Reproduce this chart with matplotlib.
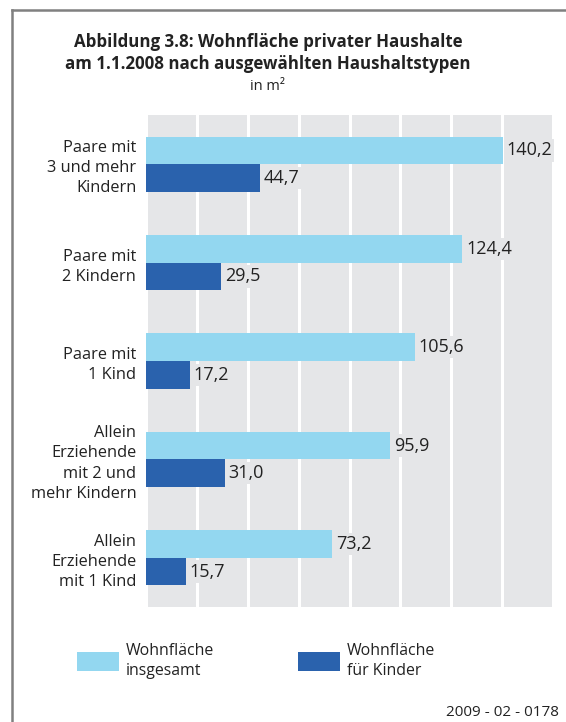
import numpy as np
import matplotlib.pyplot as plt
from matplotlib.patches import Rectangle
from matplotlib.lines import Line2D

plt.rcParams['font.family'] = ['Open Sans', 'DejaVu Sans']

categories = [
    "Paare mit\n3 und mehr\nKindern",
    "Paare mit\n2 Kindern",
    "Paare mit\n1 Kind",
    "Allein\nErziehende\nmit 2 und\nmehr Kindern",
    "Allein\nErziehende\nmit 1 Kind",
]
gesamt = [140.2, 124.4, 105.6, 95.9, 73.2]
kinder = [44.7, 29.5, 17.2, 31.0, 15.7]
series_names = ["Wohnfläche\ninsgesamt", "Wohnfläche\nfür Kinder"]

light = "#93d7f0"
dark = "#2a62ad"
bg = "#e5e6e8"
txt = "#222222"

W, H = 566, 722
fig = plt.figure(figsize=(W / 100, H / 100), dpi=100)

# frame lines (left and top)
fig.add_artist(Line2D([12 / W, 12 / W], [0, 1 - 10 / H], color="#808080", lw=1.8))
fig.add_artist(Line2D([12 / W, 1], [1 - 10 / H, 1 - 10 / H], color="#808080", lw=1.8))

ax = fig.add_axes([146 / W, 1 - 607 / H, (553 - 146) / W, (607 - 115) / H])
ax.set_facecolor(bg)

y = np.arange(len(categories))
h = 0.28
ax.barh(y - h / 2, gesamt, height=h, color=light, zorder=3)
ax.barh(y + h / 2, kinder, height=h, color=dark, zorder=3)

for yi, v in zip(y - h / 2, gesamt):
    ax.text(v + 1.5, yi, f"{v:.1f}".replace(".", ","), va="center", ha="left",
            fontsize=13, color=txt, zorder=4,
            bbox=dict(facecolor=bg, edgecolor="none", pad=1.5))
for yi, v in zip(y + h / 2, kinder):
    ax.text(v + 1.5, yi, f"{v:.1f}".replace(".", ","), va="center", ha="left",
            fontsize=13, color=txt, zorder=4,
            bbox=dict(facecolor=bg, edgecolor="none", pad=1.5))

ax.set_xlim(0, 160)
ax.set_ylim(len(categories) - 0.5, -0.5)
ax.set_xticks(np.arange(0, 161, 20))
ax.xaxis.grid(True, color="white", lw=2.2, zorder=1)
ax.set_axisbelow(True)
ax.tick_params(axis="x", length=0, labelbottom=False)
ax.tick_params(axis="y", length=0, pad=7)
ax.set_yticks(y)
ax.set_yticklabels(categories, fontsize=11.8, color=txt, linespacing=1.35)
for s in ax.spines.values():
    s.set_visible(False)

# title
fig.text(268 / W, 1 - 42 / H, "Abbildung 3.8: Wohnfläche privater Haushalte",
         ha="center", va="center", fontsize=12.2, fontweight="bold", color=txt)
fig.text(268 / W, 1 - 64 / H, "am 1.1.2008 nach ausgewählten Haushaltstypen",
         ha="center", va="center", fontsize=12.2, fontweight="bold", color=txt)
fig.text(268 / W, 1 - 87 / H, "in m²", ha="center", va="center",
         fontsize=10.5, color=txt)

# legend
for x0, c, name in [(77, light, series_names[0]), (298, dark, series_names[1])]:
    fig.add_artist(Rectangle((x0 / W, 1 - 671 / H), 42 / W, 19 / H,
                             facecolor=c, edgecolor="none"))
    fig.text((x0 + 49) / W, 1 - 661 / H, name, ha="left", va="center",
             fontsize=11.4, color=txt, linespacing=1.35)

fig.text(559 / W, 1 - 713 / H, "2009 - 02 - 0178", ha="right", va="center",
         fontsize=11, color=txt)

fig.savefig("out.png", dpi=100, facecolor="white")
